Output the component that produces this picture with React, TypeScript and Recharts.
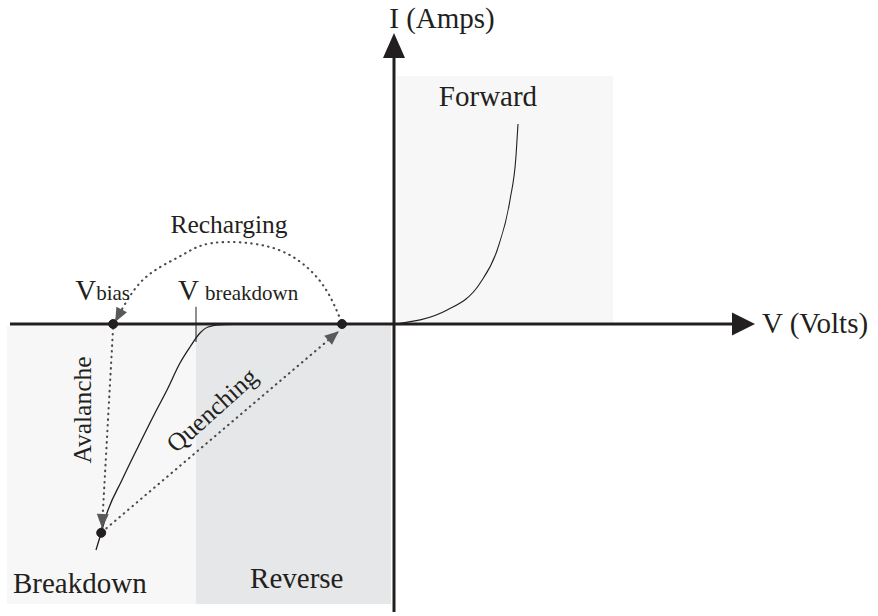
import { ComposedChart, XAxis, YAxis, Line, ReferenceArea, ReferenceLine, ReferenceDot } from 'recharts'

const INK = '#231f20'
const FONT = '"Liberation Serif", "Times New Roman", serif'

// schematic I-V characteristic of a SPAD, V on x and I on y (arbitrary units)
const forwardCurve = [
  { v: 0.03, i: 0 },
  { v: 1.33, i: 0.35 },
  { v: 2.15, i: 1.02 },
  { v: 2.58, i: 1.85 },
  { v: 2.9, i: 3.1 },
  { v: 3.05, i: 4.2 },
  { v: 3.1, i: 5.0 },
]

const breakdownCurve = [
  { v: -7.45, i: -5.65 },
  { v: -7.32, i: -5.22 },
  { v: -7.175, i: -4.725 },
  { v: -6.8, i: -3.9 },
  { v: -6.4, i: -3.075 },
  { v: -5.975, i: -2.225 },
  { v: -5.675, i: -1.65 },
  { v: -5.35, i: -0.975 },
  { v: -5.1, i: -0.575 },
  { v: -4.85, i: -0.225 },
  { v: -4.65, i: -0.075 },
  { v: -4.35, i: -0.02 },
  { v: -3.85, i: 0 },
]

// dotted cycle: recharging arc, avalanche drop, quenching return
const rechargeArc = [
  { v: -7.02, i: 0.02 },
  { v: -6.85, i: 0.28 },
  { v: -6.28, i: 1.1 },
  { v: -5.43, i: 1.65 },
  { v: -4.85, i: 1.95 },
  { v: -4.18, i: 2.05 },
  { v: -3.35, i: 1.98 },
  { v: -2.53, i: 1.68 },
  { v: -1.78, i: 0.98 },
  { v: -1.3, i: 0.02 },
]
const avalanchePath = [
  { v: -7.3, i: -5.1 },
  { v: -7.02, i: -0.05 },
]
const quenchPath = [
  { v: -7.3, i: -5.2 },
  { v: -1.38, i: -0.18 },
]

const workingPoints = [
  { v: -7.02, i: 0 },
  { v: -1.3, i: 0 },
  { v: -7.32, i: -5.22 },
]

// arrow tips with the point they come from
const cycleArrows = [
  { tip: { v: -6.97, i: 0.05 }, from: { v: -6.85, i: 0.28 } },
  { tip: { v: -7.3, i: -5.1 }, from: { v: -7.02, i: -0.05 } },
  { tip: { v: -1.38, i: -0.18 }, from: { v: -7.3, i: -5.2 } },
]

const regions = [
  { name: 'Forward', v1: 0.075, v2: 5.475, i1: 0.05, i2: 6.2, fill: '#f7f7f7' },
  { name: 'Breakdown', v1: -9.675, v2: -4.95, i1: -7.0, i2: -0.05, fill: '#f7f7f7' },
  { name: 'Reverse', v1: -4.95, v2: -0.075, i1: -7.0, i2: -0.05, fill: '#e6e7e8' },
]

const vAxis = { from: -9.6, to: 8.6, tip: 9.025 }
const iAxis = { from: -7.2, to: 6.8, tip: 7.275 }
const vBreakdown = -4.95

const regionLabels = [
  { text: 'Forward', v: 2.35, i: 5.45, anchor: 'middle' },
  { text: 'Breakdown', v: -9.525, i: -6.725, anchor: 'start' },
  { text: 'Reverse', v: -2.43, i: -6.6, anchor: 'middle' },
  { text: 'I (Amps)', v: 1.2, i: 7.4, anchor: 'middle' },
  { text: 'V (Volts)', v: 9.2, i: -0.23, anchor: 'start' },
]
const processLabels = [
  { text: 'Recharging', v: -4.125, i: 2.275, rotate: 0 },
  { text: 'Avalanche', v: -7.78, i: -2.15, rotate: -90 },
  { text: 'Quenching', v: -4.55, i: -2.15, rotate: -42 },
]
const voltageLabels = [
  { main: 'V', sub: 'bias', v: -7.97, i: 0.6, gap: 0 },
  { main: 'V', sub: 'breakdown', v: -5.4, i: 0.6, gap: 6 },
]

const arrowShape = (angle: number, len: number, wid: number, fill: string) => (p: any) => (
  <polygon
    points={`0,0 ${-len},${-wid / 2} ${-len},${wid / 2}`}
    transform={`translate(${p.cx},${p.cy}) rotate(${angle})`}
    fill={fill}
  />
)

const angleOf = (a: { v: number; i: number }, b: { v: number; i: number }) =>
  (Math.atan2(-(b.i - a.i), b.v - a.v) * 180) / Math.PI

export default function App() {
  return (
    <div style={{ position: 'absolute', left: 0, top: 0, background: '#fff' }}>
      <ComposedChart width={878} height={616} margin={{ top: 0, right: 0, left: 0, bottom: 0 }}>
        <XAxis dataKey="v" type="number" domain={[-9.85, 12.1]} allowDataOverflow hide />
        <YAxis type="number" domain={[-7.3, 8.1]} allowDataOverflow hide />

        {regions.map((r) => (
          <ReferenceArea key={r.name} x1={r.v1} x2={r.v2} y1={r.i1} y2={r.i2} fill={r.fill} fillOpacity={1} stroke="none" ifOverflow="visible" />
        ))}

        <ReferenceLine segment={[{ x: vAxis.from, y: 0 }, { x: vAxis.to, y: 0 }]} stroke={INK} strokeWidth={3} ifOverflow="visible" />
        <ReferenceLine segment={[{ x: 0, y: iAxis.from }, { x: 0, y: iAxis.to }]} stroke={INK} strokeWidth={3} ifOverflow="visible" />
        <ReferenceDot x={vAxis.tip} y={0} r={0} ifOverflow="visible" shape={arrowShape(0, 23, 23, INK)} />
        <ReferenceDot x={0} y={iAxis.tip} r={0} ifOverflow="visible" shape={arrowShape(-90, 25, 22, INK)} />
        <ReferenceLine segment={[{ x: vBreakdown, y: 0.43 }, { x: vBreakdown, y: -0.45 }]} stroke={INK} strokeWidth={1} ifOverflow="visible" />

        <Line data={forwardCurve} dataKey="i" type="monotone" stroke={INK} strokeWidth={1.1} dot={false} activeDot={false} isAnimationActive={false} />
        <Line data={breakdownCurve} dataKey="i" type="monotone" stroke={INK} strokeWidth={1.3} dot={false} activeDot={false} isAnimationActive={false} />
        {[rechargeArc, avalanchePath, quenchPath].map((d, k) => (
          <Line
            key={`cycle-${k}`}
            data={d}
            dataKey="i"
            type="natural"
            stroke="#4a4a4a"
            strokeWidth={2.1}
            strokeDasharray="0.5 5.2"
            strokeLinecap="round"
            dot={false}
            activeDot={false}
            isAnimationActive={false}
          />
        ))}

        {cycleArrows.map((a, k) => (
          <ReferenceDot key={`arrow-${k}`} x={a.tip.v} y={a.tip.i} r={0} ifOverflow="visible" shape={arrowShape(angleOf(a.from, a.tip), 14, 12, '#58595b')} />
        ))}
        {workingPoints.map((p, k) => (
          <ReferenceDot key={`pt-${k}`} x={p.v} y={p.i} r={4.5} fill={INK} stroke={INK} strokeWidth={1} ifOverflow="visible" />
        ))}

        {regionLabels.map((l) => (
          <ReferenceDot
            key={l.text}
            x={l.v}
            y={l.i}
            r={0}
            ifOverflow="visible"
            shape={(p: any) => (
              <text x={p.cx} y={p.cy} textAnchor={l.anchor} fontFamily={FONT} fontSize={29} fill={INK}>
                {l.text}
              </text>
            )}
          />
        ))}
        {processLabels.map((l) => (
          <ReferenceDot
            key={l.text}
            x={l.v}
            y={l.i}
            r={0}
            ifOverflow="visible"
            shape={(p: any) => (
              <text
                x={p.cx}
                y={p.cy}
                textAnchor="middle"
                dominantBaseline={l.rotate ? 'central' : 'auto'}
                transform={`rotate(${l.rotate} ${p.cx} ${p.cy})`}
                fontFamily={FONT}
                fontSize={25.5}
                fill={INK}
              >
                {l.text}
              </text>
            )}
          />
        ))}
        {voltageLabels.map((l) => (
          <ReferenceDot
            key={l.sub}
            x={l.v}
            y={l.i}
            r={0}
            ifOverflow="visible"
            shape={(p: any) => (
              <text x={p.cx} y={p.cy} fontFamily={FONT} fill={INK}>
                <tspan fontSize={29}>{l.main}</tspan>
                <tspan fontSize={21} dx={l.gap}>{l.sub}</tspan>
              </text>
            )}
          />
        ))}
      </ComposedChart>
    </div>
  )
}
